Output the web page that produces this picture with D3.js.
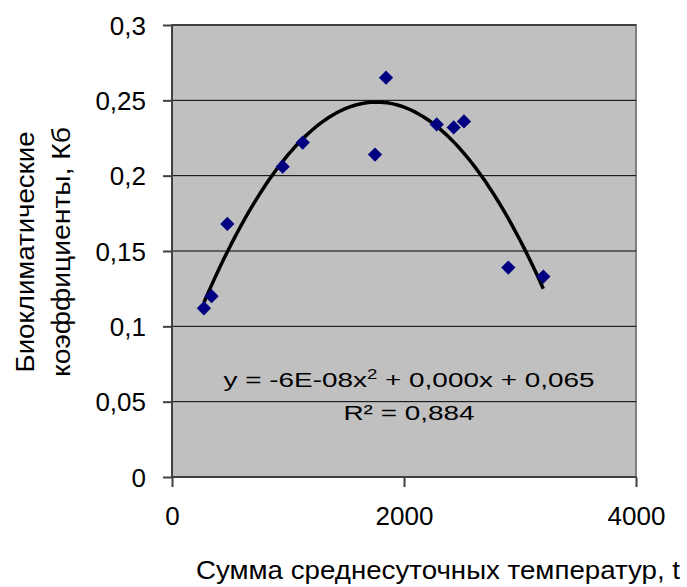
<!DOCTYPE html>
<html>
<head>
<meta charset="utf-8">
<script src="https://cdn.jsdelivr.net/npm/d3@7"></script>
<style>
  body { margin: 0; background: #fff; }
  text { font-family: "Liberation Sans", Arial, sans-serif; fill: #000; }
</style>
</head>
<body>
<div id="chart"></div>
<script>
// points
var tempSum = [275, 341, 477, 954, 1127, 1750, 1845, 2282, 2428, 2517, 2899, 3201];
var bioCoef = [0.112, 0.120, 0.168, 0.206, 0.222, 0.214, 0.265, 0.234, 0.232, 0.236, 0.139, 0.133];

// trendline coefficients (as drawn)
var trendA = -6.0e-8, trendB = 0.0002117, trendC = 0.0621;

var xTicks = [0, 2000, 4000];
var yTicks = [0, 0.05, 0.1, 0.15, 0.2, 0.25, 0.3];

var svgWidth = 687, svgHeight = 587;
var margin = {top: 25, right: 51, bottom: 110, left: 172};
var width = svgWidth - margin.left - margin.right;
var height = svgHeight - margin.top - margin.bottom;

var svg = d3.select("#chart").append("svg")
  .attr("width", svgWidth)
  .attr("height", svgHeight);

var g = svg.append("g")
  .attr("transform", `translate(${margin.left}, ${margin.top})`);

var x = d3.scaleLinear().domain([0, 4000]).range([0, width]);
var y = d3.scaleLinear().domain([0, 0.3]).range([height, 0]);

var fmt = function(d) { return String(d).replace(".", ","); };

// plot area
g.append("rect")
  .attr("width", width).attr("height", height)
  .attr("fill", "#c0c0c0")
  .attr("stroke", "#808080")
  .attr("stroke-width", 2);

// grid
g.selectAll(".grid").data(yTicks.slice(1))
  .enter().append("line")
  .attr("x1", 0).attr("x2", width)
  .attr("y1", d => y(d)).attr("y2", d => y(d))
  .attr("stroke", "#000").attr("stroke-width", 1);

// axes
var leftAxis = d3.axisLeft(y).tickValues(yTicks).tickFormat(fmt).tickSize(9).tickPadding(17);
var bottomAxis = d3.axisBottom(x).tickValues(xTicks).tickFormat(fmt).tickSize(10).tickPadding(20);

var ya = g.append("g").call(leftAxis);
var xa = g.append("g").attr("transform", `translate(0, ${height})`).call(bottomAxis);

[ya, xa].forEach(function(a) {
  a.select(".domain").remove();
  a.selectAll("line").attr("stroke", "#404040").attr("stroke-width", 2);
  a.selectAll("text").attr("font-size", 26).attr("font-family", "Liberation Sans, Arial, sans-serif");
});
ya.selectAll("text").attr("dy", "0.35em");

g.append("line").attr("x1", 0).attr("x2", 0).attr("y1", 0).attr("y2", height)
  .attr("stroke", "#404040").attr("stroke-width", 2);
g.append("line").attr("x1", 0).attr("x2", width).attr("y1", height).attr("y2", height)
  .attr("stroke", "#404040").attr("stroke-width", 2);

// trendline
var xmin = d3.min(tempSum), xmax = d3.max(tempSum);
var curve = d3.range(0, 101).map(function(i) {
  var t = xmin + (xmax - xmin) * i / 100;
  return [t, trendA * t * t + trendB * t + trendC];
});
g.append("path")
  .datum(curve)
  .attr("fill", "none")
  .attr("stroke", "#000")
  .attr("stroke-width", 3.5)
  .attr("d", d3.line().x(d => x(d[0])).y(d => y(d[1])));

// points
g.selectAll(".pt").data(tempSum)
  .enter().append("path")
  .attr("d", d3.symbol().type(d3.symbolDiamond2).size(130))
  .attr("transform", (d, i) => `translate(${x(d)}, ${y(bioCoef[i])})`)
  .attr("fill", "#000080");

// equation (text is stretched wide in the original)
var eqG = g.append("g").attr("transform", "translate(237, 0) scale(1.33, 1)");
var eq = eqG.append("text")
  .attr("x", 0).attr("y", 362)
  .attr("text-anchor", "middle")
  .attr("font-size", 21);
eq.append("tspan").text("y = -6E-08x");
eq.append("tspan").attr("font-size", 14).attr("dy", -8).text("2");
eq.append("tspan").attr("dy", 8).text("  + 0,000x  + 0,065");
eqG.append("text")
  .attr("x", 0).attr("y", 395)
  .attr("text-anchor", "middle")
  .attr("font-size", 21)
  .text("R² = 0,884");

// axis titles
svg.append("text")
  .attr("x", 438).attr("y", 579)
  .attr("text-anchor", "middle")
  .attr("font-size", 25)
  .attr("textLength", 484)
  .attr("lengthAdjust", "spacingAndGlyphs")
  .text("Сумма среднесуточных  температур, t");

var yt = svg.append("text")
  .attr("transform", "translate(34, 252) rotate(-90)")
  .attr("text-anchor", "middle")
  .attr("font-size", 26);
yt.append("tspan").attr("x", 0).attr("y", 0)
  .attr("textLength", 241).attr("lengthAdjust", "spacingAndGlyphs")
  .text("Биоклиматические");
yt.append("tspan").attr("x", 0).attr("y", 36)
  .attr("textLength", 250).attr("lengthAdjust", "spacingAndGlyphs")
  .text("коэффициенты, Кб");
</script>
</body>
</html>
